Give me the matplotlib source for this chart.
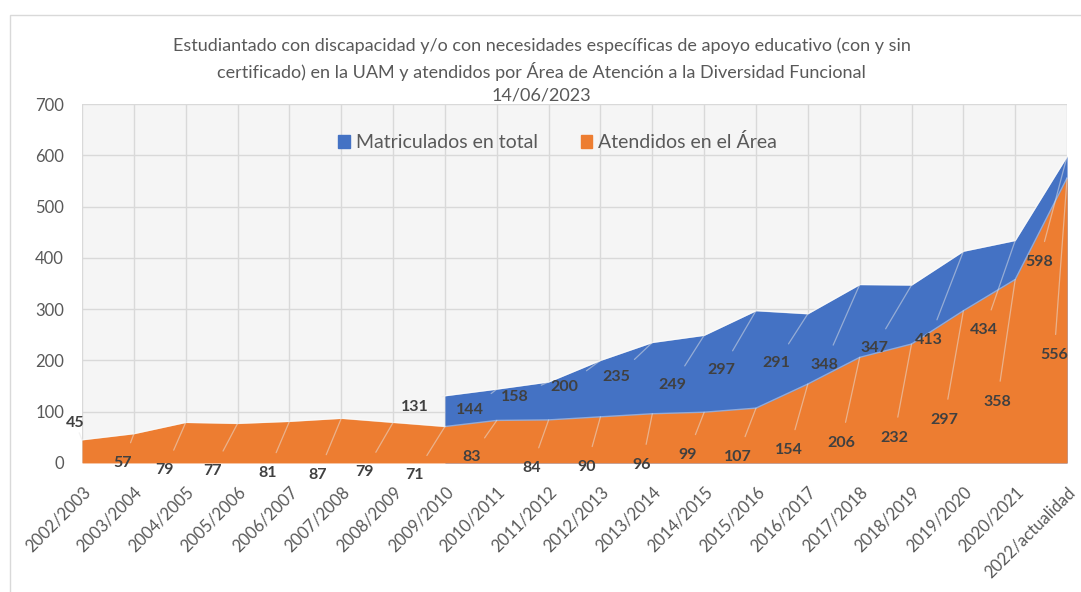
import matplotlib.pyplot as plt
from matplotlib.patches import Patch, Rectangle
import numpy as np

plt.rcParams['font.family'] = ['Lato', 'DejaVu Sans']

# datos
cursos = ['2002/2003', '2003/2004', '2004/2005', '2005/2006', '2006/2007',
          '2007/2008', '2008/2009', '2009/2010', '2010/2011', '2011/2012',
          '2012/2013', '2013/2014', '2014/2015', '2015/2016', '2016/2017',
          '2017/2018', '2018/2019', '2019/2020', '2020/2021', '2022/actualidad']
atendidos = [45, 57, 79, 77, 81, 87, 79, 71, 83, 84, 90, 96, 99, 107,
             154, 206, 232, 297, 358, 556]
matriculados = [None] * 7 + [131, 144, 158, 200, 235, 249, 297, 291,
                             348, 347, 413, 434, 598]

# posiciones de las etiquetas (en unidades del eje)
lab_x_at = [-0.13, 0.79, 1.6, 2.52, 3.58, 4.55, 5.45, 6.42, 7.51, 8.67,
            9.73, 10.8, 11.68, 12.64, 13.64, 14.64, 15.66, 16.63, 17.65, 18.75]
lab_y_at = [78, 0, -14, -15, -19, -23, -17, -23, 12, -10,
            -8, -4, 16, 12, 25, 39, 49, 84, 119, 210]
lab_x_mat = [6.42, 7.48, 8.34, 9.3, 10.3, 11.39, 12.33, 13.39, 14.32,
             15.28, 16.34, 17.4, 18.46]
lab_y_mat = [109, 103, 129, 148, 168, 152, 181, 195, 191, 224, 240, 259, 392]

azul = '#4472C4'
naranja = '#ED7D31'
gris = '#595959'
gris_lab = '#404040'

fig = plt.figure(figsize=(10.81, 5.92), dpi=100)
ax = fig.add_axes([0.0759, 0.218, 0.9112, 0.606])
ax.set_facecolor('#f5f5f5')

x = np.arange(len(cursos))
mat = np.array([np.nan if v is None else v for v in matriculados], dtype=float)
ok = np.isfinite(mat)

ax.fill_between(x, 0, np.nan_to_num(mat), where=ok, color=azul, lw=0, zorder=2)
ax.plot(x[ok], mat[ok], color='white', lw=1, alpha=0.5, zorder=2)
ax.fill_between(x, 0, atendidos, color=naranja, lw=0, zorder=3)
ax.plot(x, atendidos, color='white', lw=1, alpha=0.4, zorder=3)

ax.set_xlim(0, len(cursos) - 1)
ax.set_ylim(0, 700)
ax.set_yticks(range(0, 701, 100))
ax.set_xticks(x)
ax.set_xticklabels(cursos, rotation=45, ha='right', rotation_mode='anchor')
ax.grid(True, color='#d9d9d9', lw=1, zorder=1)
ax.set_axisbelow(True)
for s in ax.spines.values():
    s.set_visible(False)
ax.tick_params(axis='both', length=0, colors=gris, labelsize=12)
ax.tick_params(axis='y', pad=13)
ax.tick_params(axis='x', pad=15)

# etiquetas de datos con líneas guía
idx_mat = np.where(ok)[0]
for i, v in enumerate(atendidos):
    ax.annotate(str(v), xy=(x[i], v), xytext=(lab_x_at[i], lab_y_at[i]),
                ha='center', va='center', fontsize=11.5, fontweight='bold',
                color=gris_lab, zorder=6, annotation_clip=False,
                arrowprops=dict(arrowstyle='-', color='#e6e6e6', lw=0.9,
                                alpha=0.5, shrinkA=8, shrinkB=0))
for j, i in enumerate(idx_mat):
    ax.annotate(str(int(mat[i])), xy=(x[i], mat[i]),
                xytext=(lab_x_mat[j], lab_y_mat[j]),
                ha='center', va='center', fontsize=11.5, fontweight='bold',
                color=gris_lab, zorder=6, annotation_clip=False,
                arrowprops=dict(arrowstyle='-', color='#e6e6e6', lw=0.9,
                                alpha=0.5, shrinkA=8, shrinkB=0))

handles = [Patch(color=azul), Patch(color=naranja)]
ax.legend(handles, ['Matriculados en total', 'Atendidos en el Área'],
          loc='center', bbox_to_anchor=(0.483, 0.894), ncol=2, frameon=False,
          handlelength=0.6, handleheight=0.6, handletextpad=0.3,
          columnspacing=2.2, fontsize=14, labelcolor=gris)

fig.text(0.501, 1 - 37 / 592,
         'Estudiantado con discapacidad y/o con necesidades específicas de apoyo educativo (con y sin\n'
         'certificado) en la UAM y atendidos por Área de Atención a la Diversidad Funcional\n'
         '14/06/2023',
         ha='center', va='top', fontsize=13, color=gris, linespacing=1.5)

# marco del gráfico
fig.patches.append(Rectangle((10 / 1081, -0.05), 1.1, (577 / 592) + 0.05,
                             transform=fig.transFigure, fill=False,
                             ec='#d9d9d9', lw=1))

fig.savefig('out.png', dpi=100)
